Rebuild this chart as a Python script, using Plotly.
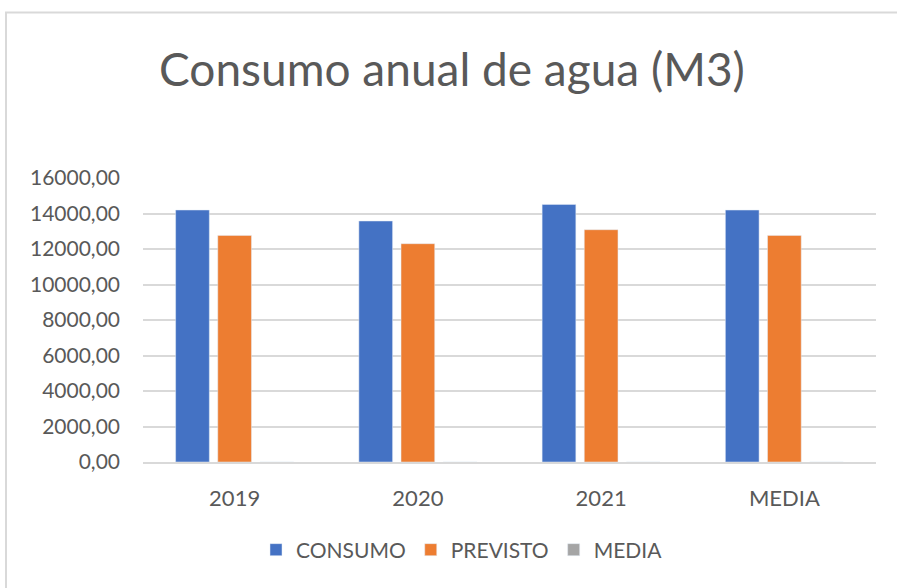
import plotly.graph_objects as go

categories = ["2019", "2020", "2021", "MEDIA"]
consumo = [14197, 13577, 14513, 14195]
previsto = [12766, 12299, 13087, 12766]
media = [0, 0, 0, 0]
y_ticks = [0, 2000, 4000, 6000, 8000, 10000, 12000, 14000, 16000]
y_labels = ["0,00", "2000,00", "4000,00", "6000,00", "8000,00", "10000,00", "12000,00", "14000,00", "16000,00"]

FONT = "Lato"
TXT = "#595959"

fig = go.Figure()
fig.add_trace(go.Bar(name="CONSUMO", x=categories, y=consumo, marker_color="#4472C4"))
fig.add_trace(go.Bar(name="PREVISTO", x=categories, y=previsto, marker_color="#ED7D31"))
fig.add_trace(go.Bar(name="MEDIA", x=categories, y=media, marker_color="#A5A5A5"))

L, R, T, B = 143, 21, 178, 126
W, H = 897, 588
pw, ph = W - L - R, H - T - B

def px(x):
    return (x - L) / pw

def py(y):
    return (H - B - y) / ph

fig.update_layout(
    width=W, height=H,
    margin=dict(l=L, r=R, t=T, b=B, pad=0, autoexpand=False),
    paper_bgcolor="white", plot_bgcolor="white",
    barmode="group", bargap=0.31, bargroupgap=0.2,
    font=dict(family=FONT, color=TXT, size=21),
    title=dict(text="Consumo anual de agua (M3)", x=452 / W, xref="container", xanchor="center",
               y=1 - 70 / H, yanchor="middle", yref="container",
               font=dict(family=FONT, size=46, color=TXT)),
    legend=dict(orientation="h", x=px(462), xanchor="center", xref="paper",
                y=py(550), yanchor="middle", yref="paper",
                font=dict(family=FONT, size=21, color=TXT), itemwidth=30,
                traceorder="normal"),
    xaxis=dict(showline=True, linecolor="#D9D9D9", linewidth=1.5, ticks="",
               tickfont=dict(size=22, color=TXT), ticklabelstandoff=16,
               tickangle=0, automargin=False),
    yaxis=dict(range=[0, 16000], tickvals=y_ticks, ticktext=y_labels,
               showgrid=True, gridcolor="#D9D9D9", gridwidth=1.5, zeroline=False,
               ticks="", tickfont=dict(size=21, color=TXT), ticklabelstandoff=22,
               automargin=False),
    shapes=[dict(type="rect", xref="paper", yref="paper",
                 x0=px(6), x1=px(905), y0=py(600), y1=py(12.5),
                 line=dict(color="#D9D9D9", width=2), fillcolor="rgba(0,0,0,0)", layer="below")],
)

fig.write_html("out.html", config={"displayModeBar": False},
               post_script="document.body.style.margin='0';document.body.style.overflow='hidden';")
